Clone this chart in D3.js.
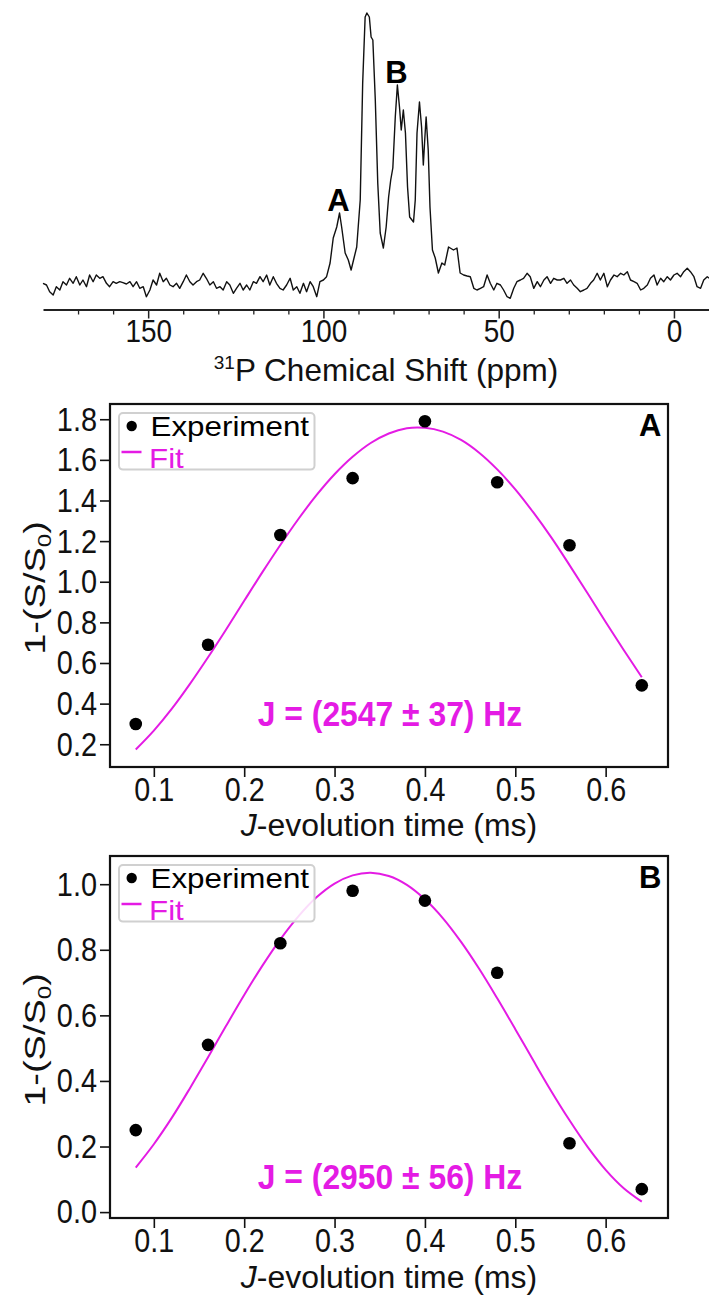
<!DOCTYPE html>
<html><head><meta charset="utf-8">
<script src="https://cdn.jsdelivr.net/npm/d3@7"></script>
<style>
body{margin:0;background:#fff}
svg{display:block}
text{font-family:"Liberation Sans",Arial,sans-serif}
</style>
</head><body><svg id="c" width="709" height="1295"></svg>
<script>
// ---------- DATA ----------
// 31P spectrum: chemical shift (ppm) and intensity (a.u.)
const specPpm = [180.0,179.0,178.1,177.1,176.2,175.2,174.3,173.3,172.4,171.4,170.5,169.5,168.6,167.6,166.7,165.7,164.8,163.8,162.9,161.9,161.0,160.0,159.1,158.1,157.2,156.2,155.2,154.3,153.3,152.4,151.4,150.5,149.5,148.6,147.6,146.7,145.7,144.8,143.8,142.9,141.9,141.0,140.0,139.1,138.1,137.2,136.2,135.3,134.3,133.4,132.4,131.4,130.5,129.5,128.6,127.6,126.7,125.7,124.8,123.8,122.9,121.9,121.0,120.0,119.1,118.1,117.2,116.2,115.3,114.3,113.4,112.4,111.5,110.5,109.5,108.6,107.6,106.7,105.7,104.8,103.8,102.9,101.9,101.0,100.0,99.1,
 98.1,97.2,96.2,95.4,94.8,93.8,92.9,92.1,91.2,90.5,89.5,88.8,88.1,87.6,86.9,86.4,85.9,85.2,84.5,83.8,82.9,82.1,81.4,80.8,80.2,79.5,78.9,78.3,77.8,77.2,76.6,76.0,75.4,74.3,73.8,73.3,72.6,72.0,71.5,71.1,70.7,70.1,69.6,68.9,68.1,67.2,66.2,65.4,64.3,62.9,61.9,61.0,
 60.0,59.0,58.1,57.1,56.2,55.2,54.3,53.3,52.4,51.4,50.5,49.5,48.6,47.6,46.7,45.7,44.8,43.8,42.9,41.9,41.0,40.0,39.0,38.1,37.1,36.2,35.2,34.3,33.3,32.4,31.4,30.5,29.5,28.6,27.6,26.7,25.7,24.8,23.8,22.9,21.9,21.0,20.0,19.0,18.1,17.1,16.2,15.2,14.3,13.3,12.4,11.4,10.5,9.5,8.6,7.6,6.7,5.7,4.8,3.8,2.9,1.9,1.0,0.0,-0.9,-1.9,-2.8,-3.8,-4.7,-5.7,-6.6,-7.6,-8.5,-9.5,-10.1];
const specInt = [1.7,0,-6.7,-10,-1.7,-5,3.3,0,6.7,1.7,8.3,0,5,-1.7,10,3.3,10,6.7,8.3,1.7,-1.7,3.3,1.7,3.3,2.3,1,3.3,-1.7,3.3,-3.3,-1.7,-11.7,-5,5,0,11.7,3.3,6.7,0,-1.7,1.7,-3.3,3.3,10,3.3,0,3.3,5,11.7,6.7,0,3.3,-3.3,-1.7,-5,3.3,0,-8.3,-3.3,1.7,-5,0,-5,3.3,1.7,8.3,3.3,10,0,8.3,1.7,-3.3,-5,0,6.7,-5,-1.7,-8.3,1.7,-6.7,3.3,-1.7,-11.7,3.3,5,8.3,
 22,47,58,72,58,32,25,15,28,38,85,202,268,272,268,248,245,185,102,52,37,58,88,105,117,168,200,178,155,175,152,98,68,63,85,152,183,158,120,145,168,135,78,35,27,12,22,20,38,35,37,12,
 10,9,8.3,-3.3,-5,-3.3,-1.7,10,1.7,-5,1.7,0,-5,-11.7,-13.3,-3.3,3.3,5,6.7,11.7,8.3,-3.3,3.3,-1.7,5,8.3,1.7,6.7,5,5,6.7,1.7,5,0,-3.3,-6.7,-5,-3.3,1.7,5,11.7,5,11.7,-1.7,5,10,8.3,11.7,10,13.3,5,3.3,1.7,-5,-3.3,0,6.7,10,0,6.7,3.3,8.3,5,10,11.7,8.3,13.3,16.7,13.3,8.3,-1.7,-3.3,5,8.3,6.7];
const specMajorTicks = [150,100,50,0];
const specMinorTicks = [170,160,140,130,120,110,90,80,70,60,40,30,20,10];
const peakLabels = ["A","B"];
const peakLabelPpm = [95.4,78.9];
const peakLabelInt = [72,200];

// J-evolution data
const timeMs = [0.08,0.16,0.24,0.32,0.40,0.48,0.56,0.64];
const expA = [0.30,0.69,1.23,1.51,1.79,1.49,1.18,0.49];
const expB = [0.25,0.51,0.82,0.98,0.95,0.73,0.21,0.07];
const fitT = [0.08,0.10,0.12,0.14,0.16,0.18,0.20,0.22,0.24,0.26,0.28,0.30,0.32,0.34,0.36,0.38,0.40,0.42,0.44,0.46,0.48,0.50,0.52,0.54,0.56,0.58,0.60,0.62,0.64];
const fitA = [0.174,0.267,0.375,0.497,0.628,0.765,0.906,1.046,1.181,1.309,1.426,1.529,1.615,1.683,1.730,1.756,1.758,1.739,1.698,1.635,1.553,1.455,1.341,1.217,1.082,0.943,0.802,0.664,0.530];
const fitB = [0.136,0.207,0.288,0.378,0.472,0.568,0.662,0.751,0.832,0.902,0.960,1.002,1.027,1.035,1.025,0.998,0.954,0.896,0.824,0.742,0.652,0.558,0.462,0.368,0.280,0.199,0.129,0.073,0.032];
const timeTicks = [0.1,0.2,0.3,0.4,0.5,0.6];
const yTicksA = [0.2,0.4,0.6,0.8,1.0,1.2,1.4,1.6,1.8];
const yTicksB = [0.0,0.2,0.4,0.6,0.8,1.0];
const jTextA = "J = (2547 ± 37) Hz";
const jTextB = "J = (2950 ± 56) Hz";
const legendLabels = ["Experiment","Fit"];

// ---------- DRAW ----------
const MAG = "#e41be4";
const svg = d3.select("#c");
function condense(sel,k){
  sel.each(function(){
    const L=this.getComputedTextLength();
    if(L>0){ this.setAttribute("textLength",L*k); this.setAttribute("lengthAdjust","spacingAndGlyphs"); }
  });
}

// Spectrum
const xS = d3.scaleLinear().domain([180,-10]).range([43,709]);
const yS = d3.scaleLinear().domain([-24.5,285]).range([309.5,0]);
const spec = specPpm.map((p,i)=>[p,specInt[i]]);
svg.append("path").datum(spec)
  .attr("fill","none").attr("stroke","#111").attr("stroke-width",1.4).attr("stroke-linejoin","round")
  .attr("d", d3.line().x(d=>xS(d[0])).y(d=>yS(d[1])));

const gMinor = svg.append("g").attr("transform","translate(0,309.5)")
  .call(d3.axisBottom(xS).tickValues(specMinorTicks).tickSize(5).tickSizeOuter(0).tickFormat(""));
gMinor.select(".domain").remove();
gMinor.selectAll("line").attr("stroke","#222").attr("stroke-width",1.3);
const gMajor = svg.append("g").attr("transform","translate(0,309.5)")
  .call(d3.axisBottom(xS).tickValues(specMajorTicks).tickSize(9).tickSizeOuter(0).tickFormat(d3.format("d")));
gMajor.attr("font-size",null).attr("font-family",null);
gMajor.select(".domain").attr("stroke","#222").attr("stroke-width",2);
gMajor.selectAll("line").attr("stroke","#222").attr("stroke-width",1.5);
gMajor.selectAll("text").attr("y",10).attr("font-size",31).attr("fill","#111").call(condense,0.9);

const tTitle = svg.append("text").attr("x",386).attr("y",381).attr("text-anchor","middle").attr("font-size",31.5).attr("fill","#111");
tTitle.append("tspan").attr("font-size",19).attr("dy",-12).text("31");
tTitle.append("tspan").attr("dy",12).text("P Chemical Shift (ppm)");

peakLabels.forEach((L,i)=>{
  svg.append("text").attr("x",xS(peakLabelPpm[i])-1).attr("y",yS(peakLabelInt[i])-2)
    .attr("text-anchor","middle").attr("font-size",31).attr("font-weight","bold").attr("fill","#000").text(L);
});

// Panels
const xT = d3.scaleLinear().domain([0.0515,0.669]).range([110,668]);
function panel(cfg){
  const y = d3.scaleLinear().domain(cfg.yDomain).range([cfg.bottom,cfg.top]);
  const g = svg.append("g");
  // x axis
  const ax = g.append("g").attr("transform",`translate(0,${cfg.bottom})`)
    .call(d3.axisBottom(xT).tickValues(timeTicks).tickSize(10).tickSizeOuter(0).tickFormat(d3.format(".1f")));
  ax.attr("font-size",null).attr("font-family",null);
  ax.select(".domain").remove();
  ax.selectAll("line").attr("stroke","#111").attr("stroke-width",1.6);
  ax.selectAll("text").attr("y",11).attr("font-size",33).attr("fill","#111").call(condense,0.87);
  // y axis
  const ay = g.append("g").attr("transform","translate(110,0)")
    .call(d3.axisLeft(y).tickValues(cfg.yTicks).tickSize(10).tickSizeOuter(0).tickPadding(3).tickFormat(d3.format(".1f")));
  ay.attr("font-size",null).attr("font-family",null);
  ay.select(".domain").remove();
  ay.selectAll("line").attr("stroke","#111").attr("stroke-width",1.6);
  ay.selectAll("text").attr("font-size",34).attr("fill","#111").call(condense,0.85);
  // frame
  g.append("rect").attr("x",110).attr("y",cfg.top).attr("width",558).attr("height",cfg.bottom-cfg.top)
    .attr("fill","none").attr("stroke","#111").attr("stroke-width",2.2);
  // fit
  g.append("path").datum(fitT.map((t,i)=>[t,cfg.fit[i]]))
    .attr("fill","none").attr("stroke",MAG).attr("stroke-width",2)
    .attr("d", d3.line().curve(d3.curveCatmullRom).x(d=>xT(d[0])).y(d=>y(d[1])));
  // points
  g.selectAll("circle.pt").data(timeMs.map((t,i)=>[t,cfg.exp[i]])).join("circle")
    .attr("class","pt").attr("cx",d=>xT(d[0])).attr("cy",d=>y(d[1])).attr("r",6.3).attr("fill","#000");
  // legend
  const lt = cfg.top+9;
  g.append("rect").attr("x",119).attr("y",lt).attr("width",195.5).attr("height",56.6).attr("rx",4)
    .attr("fill","#fff").attr("fill-opacity",0.85).attr("stroke","#d0d0d0").attr("stroke-width",2);
  g.append("circle").attr("cx",131.7).attr("cy",lt+13).attr("r",5.2).attr("fill","#000");
  g.append("text").attr("x",150.5).attr("y",lt+22.5).attr("font-size",28.5).attr("fill","#000").text(legendLabels[0]).call(condense,1.1);
  g.append("line").attr("x1",121.5).attr("x2",141.5).attr("y1",lt+39).attr("y2",lt+39).attr("stroke",MAG).attr("stroke-width",2.5);
  g.append("text").attr("x",149).attr("y",lt+54.5).attr("font-size",28.5).attr("fill",MAG).text(legendLabels[1]).call(condense,1.1);
  // panel letter
  g.append("text").attr("x",661.5).attr("y",cfg.top+32).attr("text-anchor","end").attr("font-size",31)
    .attr("font-weight","bold").attr("fill","#000").text(cfg.letter);
  // J value
  g.append("text").attr("x",390).attr("y",cfg.jY).attr("text-anchor","middle").attr("font-size",35)
    .attr("font-weight","bold").attr("fill",MAG).text(cfg.jText).call(condense,0.91);
  // x title
  const xt = g.append("text").attr("x",389).attr("y",cfg.titleY).attr("text-anchor","middle").attr("font-size",31).attr("fill","#111");
  xt.append("tspan").attr("font-style","italic").text("J");
  xt.append("tspan").text("-evolution time (ms)");
  xt.call(condense,1.03);
  // y title
  const yt = g.append("text").attr("transform",`translate(45,${cfg.yMid}) scale(0.8,1) rotate(-90)`).attr("text-anchor","middle").attr("font-size",38).attr("fill","#111");
  yt.append("tspan").text("1-(S/S");
  yt.append("tspan").attr("font-size",24).attr("dy",8).text("0");
  yt.append("tspan").attr("dy",-8).text(")");
}
panel({top:404,bottom:767,yDomain:[0.088,1.875],yTicks:yTicksA,exp:expA,fit:fitA,letter:"A",jText:jTextA,jY:726,yMid:588,titleY:836});
panel({top:856,bottom:1218,yDomain:[-0.018,1.086],yTicks:yTicksB,exp:expB,fit:fitB,letter:"B",jText:jTextB,jY:1189,yMid:1040,titleY:1288});
</script></body></html>
